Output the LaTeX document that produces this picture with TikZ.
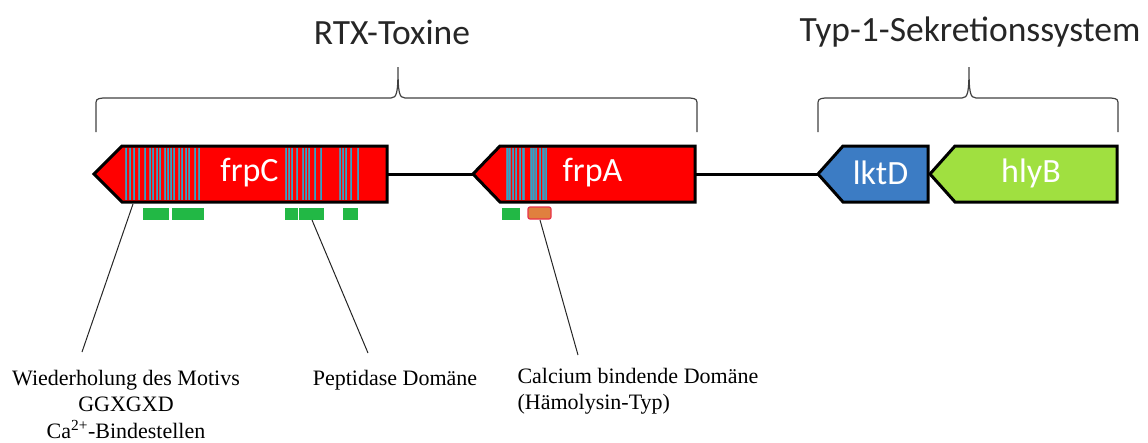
\documentclass[tikz,border=0pt]{standalone}
\usepackage{fontspec}
\setmainfont{Carlito}
\newfontfamily\notefont{Liberation Serif}
\definecolor{GeneRed}{HTML}{FF0000}
\definecolor{GeneBlue}{HTML}{3C7CC4}
\definecolor{GeneGreen}{HTML}{A0E040}
\definecolor{StripeCyan}{HTML}{22A8D0}
\definecolor{StripeGrey}{HTML}{6E7C96}
\definecolor{DomainGreen}{HTML}{22B845}
\definecolor{DomainOrange}{HTML}{E0803E}
\definecolor{DomainRim}{HTML}{E8334A}

\begin{document}
\begin{tikzpicture}[x=1pt,y=-1pt,
    gene/.style={draw=black,line width=3pt,line join=miter},
    genelabel/.style={text=white,font=\fontsize{34}{34}\selectfont},
    stripe/.style={draw=StripeGrey,line width=.7pt,double=StripeCyan,double distance=.8pt},
    title/.style={text=black!85,font=\fontsize{35.5}{35.5}\selectfont},
    brace/.style={black!75,line width=1.2pt},
    note/.style={font=\notefont\fontsize{22}{26.5}\selectfont},
    leader/.style={black!85,line width=1pt}]
  \useasboundingbox (0,0) rectangle (1148,442);

  % backbone
  \coordinate (cEnd) at (387,174); \coordinate (aTip) at (473,174);
  \coordinate (aEnd) at (695,174); \coordinate (dTip) at (818,174);
  \draw[line width=3pt] (cEnd)--(aTip) (aEnd)--(dTip);

  % genes: tip / start of body / end / colour
  \foreach \t/\b/\e/\c in {94/122/387/GeneRed,473/500/695/GeneRed,818/843/928/GeneBlue,930/955/1117/GeneGreen}
    \fill[\c] (\t,174)--(\b,146)--(\e,146)--(\e,202)--(\b,202)--cycle;

  % GGXGXD repeats
  \foreach \s in {126,130,134,139,145,150,153,157,160,165,168,171,174,179,182,186,189,195,199,
                  286,289,292,297,303,306,309,315,321,340,343,346,351,358,
                  507,509.5,513,516,520,523.5,531,533.5,536,540,543.5,546}
    \draw[stripe] (\s,148)--(\s,200);

  \foreach \t/\b/\e/\n in {94/122/387/frpC,473/500/695/frpA,818/843/928/lktD,930/955/1117/hlyB}{
    \draw[gene] (\t,174)--(\b,146)--(\e,146)--(\e,202)--(\b,202)--cycle;
    \node[genelabel] (\n) at ({(\b+\e)/2-5},173) {\n};
  }

  % domains below the genes
  \foreach \l/\r in {143/169,172/204,285/298,299/324,343/358,502/520}
    \fill[DomainGreen] (\l,208) rectangle (\r,220);
  \filldraw[fill=DomainOrange,draw=DomainRim,line width=1.2pt,rounded corners=2pt] (528,207) rectangle (551,219);

  % braces and titles
  \draw[brace] (96,132)--(96,106) .. controls (96,99) .. (103,98)--(391,98)
    .. controls (397,98) and (398,92) .. (398,67) .. controls (398,92) and (399,98) .. (405,98)
    --(690,98) .. controls (697,99) .. (697,106)--(697,132);
  \draw[brace] (818,132)--(818,106) .. controls (818,99) .. (825,98)--(962,98)
    .. controls (968,98) and (969,92) .. (969,67) .. controls (969,92) and (970,98) .. (976,98)
    --(1111,98) .. controls (1118,99) .. (1118,106)--(1118,132);
  \node[title] (rtx) at (392,32) {RTX-Toxine};
  \node[title] (t1ss) at (970,32) {Typ-1-Sekretionssystem};

  % annotations
  \node[note,align=center] (motiv) at (126,404) {Wiederholung des Motivs\\GGXGXD\\Ca\textsuperscript{2+}-Bindestellen};
  \node[note] (pept) at (395,380) {Peptidase Domäne};
  \node[note,align=left,anchor=west] (calc) at (514,391) {Calcium bindende Domäne\\(Hämolysin-Typ)};
  \coordinate (motivTop) at (82,352); \coordinate (peptTop) at (368,353); \coordinate (calcTop) at (578,355);
  \coordinate (rep) at (133,204); \coordinate (pep) at (312,220); \coordinate (cal) at (540,220);
  \draw[leader] (rep)--(motivTop) (pep)--(peptTop) (cal)--(calcTop);
\end{tikzpicture}
\end{document}
